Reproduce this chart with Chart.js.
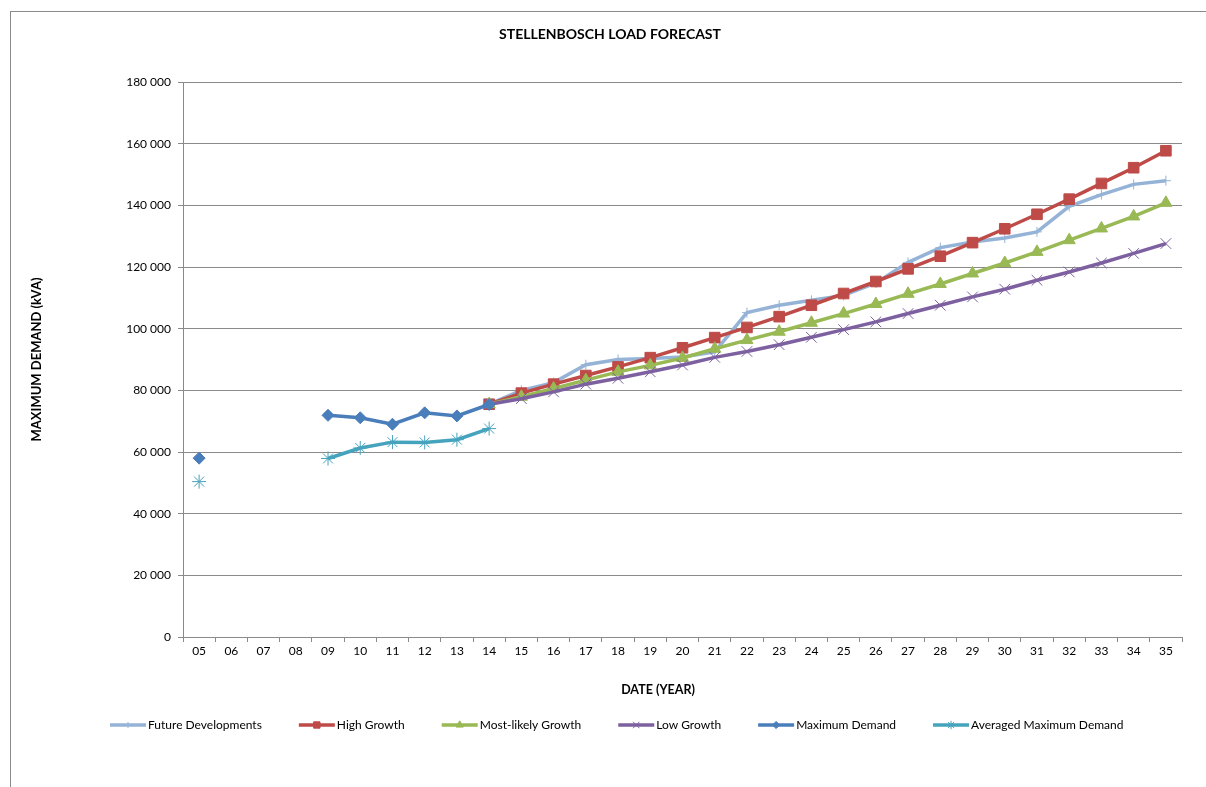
<!DOCTYPE html>
<html>
<head>
<meta charset="utf-8">
<title>Stellenbosch Load Forecast</title>
<script src="https://cdn.jsdelivr.net/npm/chart.js@4/dist/chart.umd.min.js"></script>
<style>
  html, body { margin: 0; padding: 0; background: #fff; }
  canvas { display: block; }
</style>
</head>
<body>
<canvas id="forecast" width="1206" height="787"></canvas>
<script>
// Financial years (20xx) along the category axis
const years = ['05','06','07','08','09','10','11','12','13','14','15','16','17','18','19','20',
               '21','22','23','24','25','26','27','28','29','30','31','32','33','34','35'];

// Recorded demand, kVA (no records for 06-08, none after 14)
const maxDemand    = [58000, null, null, null, 71900, 71100, 69000, 72700, 71700, 75400,
                      null, null, null, null, null, null, null, null, null, null, null,
                      null, null, null, null, null, null, null, null, null, null];
const avgMaxDemand = [50400, null, null, null, 57900, 61300, 63200, 63100, 64000, 67600,
                      null, null, null, null, null, null, null, null, null, null, null,
                      null, null, null, null, null, null, null, null, null, null];

// Forecast scenarios, kVA, from 14 to 35
const lead = [null, null, null, null, null, null, null, null, null];
const futureDevelopments = lead.concat([75500, 80000, 82500, 88300, 90000, 90300, 90800, 92500,
  105200, 107600, 109200, 110800, 114800, 121500, 126300, 128100, 129400, 131400, 139700,
  143500, 146800, 148000]);
const highGrowth = lead.concat([75500, 79100, 82000, 84800, 87600, 90600, 93800, 97100,
  100400, 103900, 107600, 111400, 115300, 119400, 123500, 127900, 132400, 137100, 142000,
  147100, 152200, 157700]);
const mostLikelyGrowth = lead.concat([75500, 77900, 80600, 83300, 86000, 88100, 90500, 93500,
  96300, 99000, 101900, 104900, 108000, 111300, 114500, 117900, 121300, 124900, 128700,
  132500, 136400, 140800]);
const lowGrowth = lead.concat([75500, 77300, 79500, 82000, 83900, 86000, 88200, 90700,
  92600, 94800, 97200, 99700, 102200, 104900, 107600, 110300, 112800, 115700, 118400,
  121300, 124400, 127600]);

const yTicks = [0, 20000, 40000, 60000, 80000, 100000, 120000, 140000, 160000, 180000];

const FONT = 'Lato, "Open Sans", sans-serif';
Chart.defaults.font.family = FONT;
Chart.defaults.color = '#000';

function series(label, data, color, style, radius, order) {
  return {
    label, data, order,
    borderColor: color,
    backgroundColor: color,
    borderWidth: 3.5,
    pointStyle: style,
    pointRadius: radius,
    pointHoverRadius: radius,
    pointBorderWidth: 1,
    pointBackgroundColor: color,
    pointBorderColor: color,
    tension: 0,
    spanGaps: false
  };
}

const datasets = [
  series('Future Developments', futureDevelopments, '#95B3D7', 'cross', 5, 6),
  series('High Growth', highGrowth, '#BE4B48', 'rect', 7.5, 5),
  series('Most-likely Growth', mostLikelyGrowth, '#98B954', 'triangle', 7, 4),
  series('Low Growth', lowGrowth, '#7D60A0', 'crossRot', 7.5, 3),
  series('Maximum Demand', maxDemand, '#4A7EBB', 'rectRot', 6, 2),
  series('Averaged Maximum Demand', avgMaxDemand, '#46A3BD', 'star', 7, 1)
];

// Frame, heading, x-axis caption and the line-with-marker key
const decorations = {
  id: 'decorations',
  beforeDraw(chart) {
    const ctx = chart.ctx;
    ctx.save();
    ctx.fillStyle = '#fff';
    ctx.fillRect(0, 0, chart.width, chart.height);
    ctx.strokeStyle = '#8a8a8a';
    ctx.lineWidth = 1;
    ctx.strokeRect(10.5, 11.5, chart.width + 20, chart.height + 20);
    ctx.restore();
  },
  afterDraw(chart) {
    const ctx = chart.ctx;
    ctx.save();
    ctx.fillStyle = '#000';
    ctx.textAlign = 'center';
    ctx.textBaseline = 'middle';
    ctx.font = 'bold 14px ' + FONT;
    ctx.fillText('STELLENBOSCH LOAD FORECAST', 610, 34);
    ctx.font = 'bold 12.5px ' + FONT;
    ctx.fillText('DATE (YEAR)', 658, 690);

    ctx.font = '12px ' + FONT;
    ctx.textAlign = 'left';
    let x = 110;
    const y = 725;
    chart.data.datasets.forEach(ds => {
      ctx.strokeStyle = ds.borderColor;
      ctx.lineWidth = 3.5;
      ctx.beginPath();
      ctx.moveTo(x, y);
      ctx.lineTo(x + 36, y);
      ctx.stroke();
      ctx.fillStyle = ds.borderColor;
      ctx.lineWidth = 1;
      Chart.helpers.drawPoint(ctx, {
        pointStyle: ds.pointStyle,
        radius: Math.min(ds.pointRadius * 0.6, 4.5),
        rotation: 0,
        borderWidth: 1
      }, x + 18, y);
      ctx.fillStyle = '#000';
      ctx.fillText(ds.label, x + 38, y);
      x += 38 + ctx.measureText(ds.label).width + 37;
    });
    ctx.restore();
  }
};

new Chart(document.getElementById('forecast'), {
  type: 'line',
  data: { labels: years, datasets },
  plugins: [decorations],
  options: {
    responsive: false,
    animation: false,
    events: [],
    layout: { padding: { top: 82, right: 24, bottom: 80, left: 0 } },
    plugins: {
      legend: { display: false },
      title: { display: false },
      tooltip: { enabled: false }
    },
    scales: {
      x: {
        type: 'category',
        offset: true,
        grid: {
          display: true,
          drawOnChartArea: false,
          offset: true,
          tickLength: 5,
          color: '#8a8a8a'
        },
        border: { color: '#8a8a8a', width: 1 },
        ticks: { font: { size: 12 }, padding: 2, maxRotation: 0, autoSkip: false },
        afterFit(scale) { scale.height = 70; }
      },
      y: {
        min: 0,
        max: 180000,
        afterBuildTicks(scale) { scale.ticks = yTicks.map(v => ({ value: v })); },
        grid: { color: '#8a8a8a', tickLength: 5, lineWidth: 1 },
        border: { color: '#8a8a8a', width: 1 },
        ticks: {
          font: { size: 12 },
          padding: 7,
          callback: v => String(v).replace(/\B(?=(\d{3})+(?!\d))/g, ' ')
        },
        title: {
          display: true,
          text: 'MAXIMUM DEMAND (kVA)',
          font: { size: 13, weight: 'bold' },
          padding: { top: 29, bottom: 0 }
        },
        afterFit(scale) { scale.width = 183; }
      }
    }
  }
});
</script>
</body>
</html>
